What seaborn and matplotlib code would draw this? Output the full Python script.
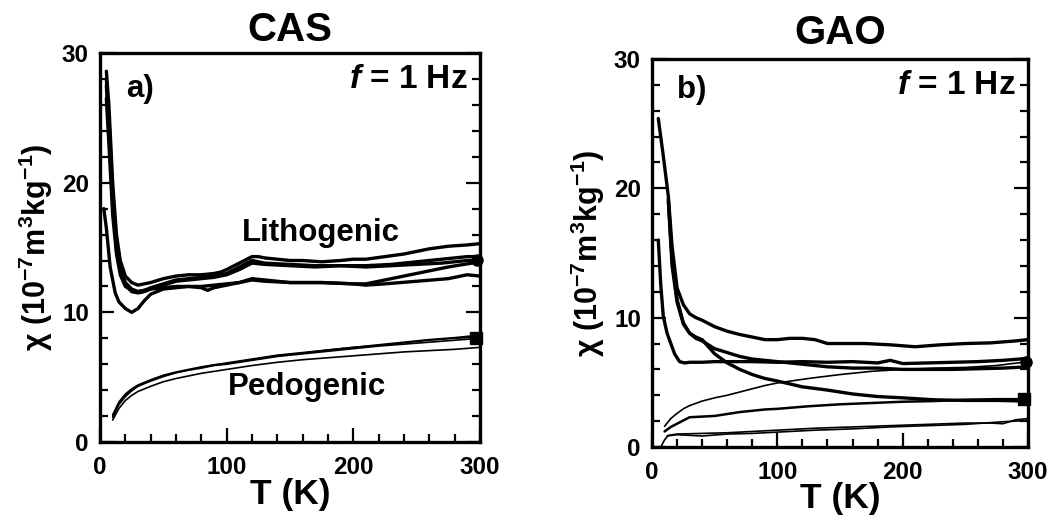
import numpy as np
import pandas as pd
import matplotlib
matplotlib.use("Agg")
import matplotlib.pyplot as plt
import seaborn as sns
from matplotlib.ticker import MultipleLocator

sns.set_style("ticks")
plt.rcParams['font.family'] = ['Liberation Sans', 'DejaVu Sans']
plt.rcParams['font.weight'] = 'bold'
plt.rcParams['text.color'] = 'black'
plt.rcParams['axes.labelcolor'] = 'black'
plt.rcParams['xtick.color'] = 'black'
plt.rcParams['ytick.color'] = 'black'
plt.rcParams['mathtext.fontset'] = 'custom'
plt.rcParams['mathtext.rm'] = 'Liberation Sans'
plt.rcParams['mathtext.bf'] = 'Liberation Sans:bold'
plt.rcParams['mathtext.it'] = 'Liberation Sans:italic:bold'
plt.rcParams['mathtext.default'] = 'bf'

# ---------------- CAS (panel a) ----------------
cas_L1_T = [5, 7, 10, 13, 16, 20, 25, 30, 35, 40, 50, 60, 70, 80, 90, 95, 100, 110, 120, 125, 130, 140, 150, 160, 175, 190, 200, 210, 225, 240, 250, 260, 275, 290, 300]
cas_L1_y = [28.6, 26, 20, 16, 14, 12.8, 12.3, 12.1, 12.2, 12.3, 12.6, 12.8, 12.9, 12.9, 13.0, 13.1, 13.3, 13.8, 14.3, 14.3, 14.2, 14.1, 14.0, 14.0, 13.9, 14.0, 14.1, 14.1, 14.3, 14.5, 14.7, 14.9, 15.1, 15.2, 15.3]
cas_L2_T = [5, 7, 10, 13, 16, 20, 25, 30, 35, 40, 50, 60, 70, 80, 90, 100, 110, 120, 130, 150, 170, 190, 210, 230, 250, 270, 290, 300]
cas_L2_y = [28.0, 25, 19, 15.2, 13.4, 12.3, 11.8, 11.6, 11.7, 11.9, 12.2, 12.5, 12.6, 12.7, 12.8, 13.0, 13.5, 14.0, 13.8, 13.7, 13.6, 13.6, 13.6, 13.7, 13.9, 14.1, 14.3, 14.3]
cas_L3_y = [27.5, 24, 18.5, 14.8, 13.2, 12.1, 11.6, 11.5, 11.6, 11.8, 12.1, 12.4, 12.5, 12.6, 12.7, 12.9, 13.3, 13.8, 13.7, 13.6, 13.5, 13.6, 13.5, 13.6, 13.7, 13.8, 14.0, 14.0]
cas_L4_T = [5, 7, 10, 13, 16, 20, 25, 30, 35, 40, 50, 60, 70, 80, 85, 90, 100, 110, 120, 130, 140, 150, 175, 200, 210, 225, 250, 275, 290, 300]
cas_L4_y = [26.5, 23, 17.5, 14.5, 12.9, 12.0, 11.7, 11.6, 11.7, 11.8, 11.9, 12.0, 12.0, 11.9, 11.7, 11.9, 12.1, 12.3, 12.6, 12.5, 12.4, 12.3, 12.3, 12.2, 12.1, 12.2, 12.4, 12.6, 12.9, 12.8]
cas_L5_T = [3, 5, 8, 12, 15, 20, 25, 30, 35, 40, 50, 60, 70, 80, 90, 100, 110, 120, 130, 150, 175, 200, 210, 225, 250, 275, 300]
cas_L5_y = [18.0, 16.5, 13.5, 11.5, 10.8, 10.3, 10.0, 10.3, 10.9, 11.4, 11.8, 11.9, 12.0, 12.0, 12.1, 12.2, 12.3, 12.5, 12.4, 12.3, 12.3, 12.2, 12.2, 12.5, 13.0, 13.5, 13.9]

cas_P_T = [10, 15, 20, 25, 30, 40, 50, 60, 70, 80, 90, 100, 120, 140, 160, 180, 200, 220, 240, 260, 280, 300]
cas_P1_y = [2.1, 3.1, 3.7, 4.1, 4.4, 4.8, 5.15, 5.4, 5.6, 5.8, 5.95, 6.1, 6.4, 6.7, 6.9, 7.1, 7.3, 7.5, 7.7, 7.9, 8.05, 8.25]
cas_P2_y = [2.0, 3.0, 3.6, 4.0, 4.35, 4.75, 5.1, 5.35, 5.55, 5.75, 5.95, 6.05, 6.35, 6.65, 6.85, 7.1, 7.3, 7.45, 7.65, 7.85, 8.0, 8.1]
cas_P3_y = [1.9, 2.9, 3.5, 3.95, 4.3, 4.7, 5.05, 5.35, 5.55, 5.7, 5.9, 6.0, 6.3, 6.6, 6.8, 7.0, 7.2, 7.4, 7.55, 7.7, 7.85, 8.0]
cas_P4_y = [1.7, 2.6, 3.2, 3.6, 3.9, 4.3, 4.65, 4.9, 5.1, 5.3, 5.45, 5.6, 5.9, 6.15, 6.35, 6.5, 6.65, 6.8, 6.95, 7.05, 7.15, 7.3]

# ---------------- GAO (panel b) ----------------
gao_G1_T = [5, 9, 13, 16, 20, 25, 30, 35, 40, 50, 60, 70, 80, 90, 100, 110, 120, 130, 140, 150, 170, 190, 210, 230, 250, 270, 290, 300]
gao_G1_y = [25.4, 22.5, 19.4, 15.5, 12.3, 11.0, 10.3, 10.0, 9.8, 9.3, 8.95, 8.7, 8.5, 8.3, 8.3, 8.4, 8.4, 8.3, 8.0, 8.0, 8.0, 7.9, 7.75, 7.9, 8.0, 8.05, 8.2, 8.3]
gao_G2_T = [13, 16, 20, 25, 30, 35, 40, 50, 60, 70, 80, 90, 100, 120, 140, 160, 180, 200, 220, 240, 260, 280, 300]
gao_G2_y = [19.2, 14.5, 11.4, 9.6, 8.8, 8.4, 8.2, 7.6, 7.3, 7.0, 6.8, 6.7, 6.6, 6.4, 6.2, 6.1, 6.1, 6.0, 6.0, 6.0, 6.05, 6.1, 6.2]
gao_G3_T = [5, 7, 9, 12, 15, 18, 22, 26, 30, 40, 50, 60, 80, 100, 120, 140, 160, 180, 190, 200, 220, 240, 260, 280, 300]
gao_G3_y = [16.0, 12.5, 10.1, 8.8, 8.0, 7.2, 6.6, 6.5, 6.55, 6.55, 6.6, 6.6, 6.6, 6.55, 6.6, 6.55, 6.6, 6.5, 6.7, 6.45, 6.5, 6.55, 6.6, 6.7, 6.85]
gao_G4_T = [13, 16, 20, 25, 30, 35, 40, 50, 60, 70, 80, 90, 100, 120, 140, 160, 180, 200, 225, 250, 275, 300]
gao_G4_y = [19.0, 14.0, 11.2, 9.5, 8.8, 8.5, 8.3, 7.2, 6.5, 6.0, 5.6, 5.3, 5.1, 4.65, 4.4, 4.1, 3.9, 3.8, 3.65, 3.6, 3.6, 3.55]

gao_Tn_T = [10, 15, 20, 25, 30, 40, 50, 60, 70, 80, 90, 100, 125, 150, 175, 200, 225, 250, 275, 300]
gao_T1_y = [1.6, 2.2, 2.6, 2.95, 3.2, 3.55, 3.8, 4.0, 4.25, 4.5, 4.75, 4.95, 5.3, 5.6, 5.85, 6.0, 6.1, 6.15, 6.3, 6.6]
gao_T2_y = [1.2, 1.55, 1.8, 2.05, 2.3, 2.35, 2.4, 2.55, 2.7, 2.8, 2.9, 2.95, 3.15, 3.3, 3.4, 3.5, 3.55, 3.65, 3.7, 3.7]
gao_T3_T = [7, 10, 13, 20, 40, 60, 80, 100, 130, 160, 190, 220, 250, 270, 280, 290, 300]
gao_T3_y = [0.0, 0.55, 0.9, 1.0, 1.05, 1.1, 1.2, 1.3, 1.45, 1.55, 1.65, 1.75, 1.85, 1.85, 1.8, 2.1, 2.2]
gao_T4_T = [12, 20, 40, 60, 80, 100, 130, 160, 190, 220, 250, 280, 300]
gao_T4_y = [0.85, 0.95, 0.85, 1.0, 1.05, 1.15, 1.3, 1.4, 1.55, 1.65, 1.75, 1.95, 2.05]

# end markers (T, chi)
cas_marker_circle = (298, 14.05)
cas_marker_square = (297, 8.05)
gao_marker_circle = (298, 6.6)
gao_marker_square = (297, 3.7)

THICK = 2.4
THIN = 1.2

cas_curves = [
    (cas_L1_T, cas_L1_y, THICK), (cas_L2_T, cas_L2_y, THICK), (cas_L2_T, cas_L3_y, THICK),
    (cas_L4_T, cas_L4_y, THICK), (cas_L5_T, cas_L5_y, THICK),
    (cas_P_T, cas_P1_y, THIN), (cas_P_T, cas_P2_y, THIN), (cas_P_T, cas_P3_y, THIN), (cas_P_T, cas_P4_y, THIN),
]
gao_curves = [
    (gao_G1_T, gao_G1_y, THICK), (gao_G2_T, gao_G2_y, THICK), (gao_G3_T, gao_G3_y, THICK),
    (gao_G4_T, gao_G4_y, THICK),
    (gao_Tn_T, gao_T1_y, THIN), (gao_Tn_T, gao_T2_y, 1.8),
    (gao_T3_T, gao_T3_y, THIN), (gao_T4_T, gao_T4_y, THIN),
]

fig = plt.figure(figsize=(10.64, 5.25), dpi=100)
axA = fig.add_axes([0.094, 0.158, 0.357, 0.741])
axB = fig.add_axes([0.6128, 0.1486, 0.3534, 0.739])

TXT = 22.5


def draw(ax, curves, circ, sq):
    for T, y, lw in curves:
        df = pd.DataFrame({"T": T, "chi": y})
        sns.lineplot(data=df, x="T", y="chi", ax=ax, color="black", lw=lw,
                     estimator=None, sort=False, solid_joinstyle="round")
    ax.plot([circ[0]], [circ[1]], marker="o", ms=8, color="black", clip_on=False, zorder=5)
    ax.plot([sq[0]], [sq[1]], marker="s", ms=9, color="black", clip_on=False, zorder=5)
    ax.set_xlim(0, 300)
    ax.set_ylim(0, 30)
    ax.xaxis.set_major_locator(MultipleLocator(100))
    ax.xaxis.set_minor_locator(MultipleLocator(20))
    ax.yaxis.set_major_locator(MultipleLocator(10))
    ax.yaxis.set_minor_locator(MultipleLocator(2))
    ax.tick_params(which="both", direction="in", top=False, right=True, width=1.6, color="black")
    ax.tick_params(which="major", length=10, labelsize=17.5, labelcolor="black")
    ax.tick_params(which="minor", length=6)
    ax.tick_params(axis="x", which="major", pad=10)
    ax.tick_params(axis="y", which="major", pad=8)
    for lab in ax.get_xticklabels() + ax.get_yticklabels():
        lab.set_fontweight("bold")
    for s in ax.spines.values():
        s.set_linewidth(2.4)
        s.set_color("black")
    ax.set_xlabel("T (K)", fontsize=25.5, fontweight="bold", labelpad=-1, color="black")
    ax.set_ylabel("$\\mathrm{χ}$ (10$^{-7}$m$^{3}$kg$^{-1}$)", fontsize=22, fontweight="bold",
                  labelpad=5, color="black")
    ax.text(290, 27.3, "$\\mathit{f}$ = 1 Hz", ha="right", va="baseline", fontsize=24,
            fontweight="bold", color="black")


draw(axA, cas_curves, cas_marker_circle, cas_marker_square)
draw(axB, gao_curves, gao_marker_circle, gao_marker_square)

axA.set_title("CAS", fontsize=29, fontweight="bold", pad=9, color="black")
axB.set_title("GAO", fontsize=29, fontweight="bold", pad=11, color="black")
axA.text(21, 26.6, "a)", ha="left", va="baseline", fontsize=TXT, fontweight="bold", color="black")
axB.text(20, 27.0, "b)", ha="left", va="baseline", fontsize=TXT, fontweight="bold", color="black")
axA.text(112, 15.5, "Lithogenic", ha="left", va="baseline", fontsize=TXT, fontweight="bold", color="black")
axA.text(101, 3.6, "Pedogenic", ha="left", va="baseline", fontsize=TXT, fontweight="bold", color="black")

fig.savefig("out.png", dpi=100)
